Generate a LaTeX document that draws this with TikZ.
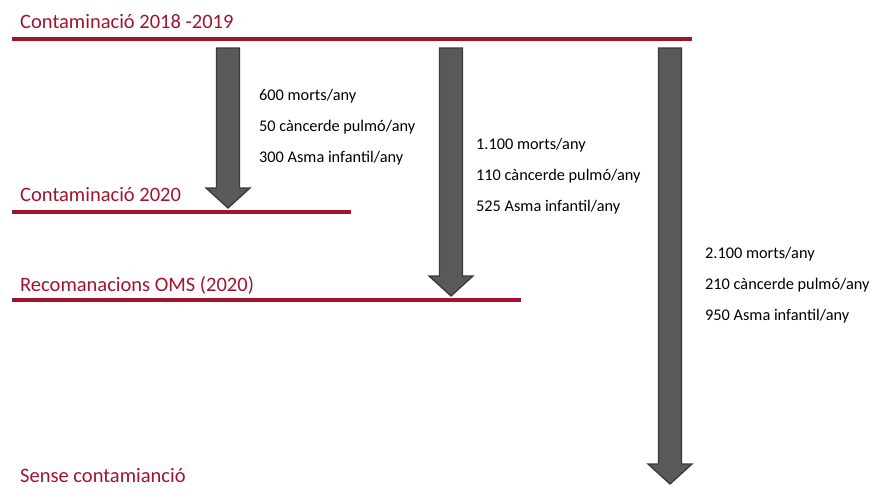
\documentclass[tikz,border=0pt]{standalone}
\usepackage{fontspec}
\setmainfont{Carlito}
\definecolor{wine}{HTML}{A0142E}
\definecolor{arrfill}{HTML}{595959}
\definecolor{arrdraw}{HTML}{3A3A3A}
\begin{document}
\begin{tikzpicture}[x=1pt,y=-1pt,
  level/.style={draw=wine,line width=3.5pt},
  title/.style={anchor=base west,inner sep=0pt,text=wine,font=\fontsize{20.5}{22}\selectfont},
  stat/.style={anchor=base west,inner sep=0pt,font=\fontsize{16.3}{18}\selectfont},
  bigarrow/.style={fill=arrfill,draw=arrdraw,line width=1.3pt,line join=miter}]
\useasboundingbox (0,0) rectangle (880,488);
% levels
\coordinate (l1a) at (12,39); \coordinate (l1b) at (692,39);
\coordinate (l2a) at (12,212); \coordinate (l2b) at (351,212);
\coordinate (l3a) at (12,300); \coordinate (l3b) at (521,300);
\draw[level] (l1a) -- (l1b);
\draw[level] (l2a) -- (l2b);
\draw[level] (l3a) -- (l3b);
\node[title] (t1) at (20,28) {Contaminació 2018 -2019};
\node[title] (t2) at (20,201) {Contaminació 2020};
\node[title] (t3) at (20,291) {Recomanacions OMS (2020)};
\node[title] (t4) at (20,482) {Sense contamianció};
% arrows
\newcommand{\downarrowshape}[4]{% center x, top y, head base y, tip y
  \draw[bigarrow] (#1-11.5,#2) -- (#1+11.5,#2) -- (#1+11.5,#3) -- (#1+22,#3)
    -- (#1,#4) -- (#1-22,#3) -- (#1-11.5,#3) -- cycle;}
\downarrowshape{228}{48}{188}{208}
\downarrowshape{451}{48}{276}{296}
\downarrowshape{670}{48}{464}{484}
% stats
\node[stat] (a1) at (259,100) {600 morts/any};
\node[stat] (a2) at (259,131) {50 càncerde pulmó/any};
\node[stat] (a3) at (259,162) {300 Asma infantil/any};
\node[stat] (b1) at (476,149) {1.100 morts/any};
\node[stat] (b2) at (476,180) {110 càncerde pulmó/any};
\node[stat] (b3) at (476,211) {525 Asma infantil/any};
\node[stat] (c1) at (705,258) {2.100 morts/any};
\node[stat] (c2) at (705,289) {210 càncerde pulmó/any};
\node[stat] (c3) at (705,320) {950 Asma infantil/any};
\end{tikzpicture}
\end{document}
